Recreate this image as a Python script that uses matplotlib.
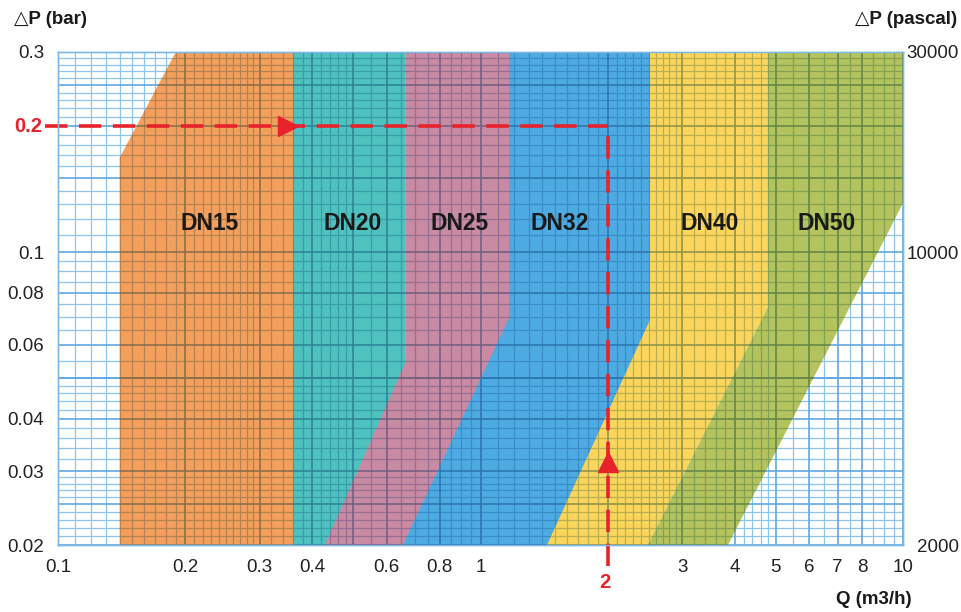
import numpy as np
import matplotlib
matplotlib.use("Agg")
import matplotlib.pyplot as plt
from matplotlib.patches import Polygon
from matplotlib.collections import LineCollection
from matplotlib.colors import to_rgb

# ---------------- data ----------------
bands = ["DN15", "DN20", "DN25", "DN32", "DN40", "DN50"]
band_colors = ["#F49F5C", "#4FC1BF", "#C98AA3", "#4EABE1", "#FBD55C", "#B3C35D"]
# polygon outlines (Q in m3/h, dP in bar)
band_q = [
    [0.14, 0.14, 0.19, 0.36, 0.36],
    [0.36, 0.36, 0.663, 0.663],
    [0.663, 1.168, 1.168, 0.4285, 0.663],
    [1.168, 2.518, 2.518, 0.6555, 1.168],
    [2.518, 4.79, 4.79, 2.49, 1.437, 2.518],
    [4.79, 10.0, 10.0, 3.853, 2.49, 4.79],
]
band_dp = [
    [0.02, 0.168, 0.3, 0.3, 0.02],
    [0.02, 0.3, 0.3, 0.02],
    [0.3, 0.3, 0.02, 0.02, 0.0543],
    [0.3, 0.3, 0.02, 0.02, 0.0695],
    [0.3, 0.3, 0.0739, 0.02, 0.02, 0.0688],
    [0.3, 0.3, 0.1308, 0.02, 0.02, 0.0739],
]
label_q = [0.229, 0.497, 0.894, 1.543, 3.49, 6.61]
label_dp = 0.117

x_ticks = [0.1, 0.2, 0.3, 0.4, 0.6, 0.8, 1, 3, 4, 5, 6, 7, 8, 10]
x_ticklabels = ["0.1", "0.2", "0.3", "0.4", "0.6", "0.8", "1", "3", "4", "5", "6", "7", "8", "10"]
y_ticks = [0.02, 0.03, 0.04, 0.06, 0.08, 0.1, 0.3]
y_ticklabels = ["0.02", "0.03", "0.04", "0.06", "0.08", "0.1", "0.3"]
pa_ticks = [2000, 10000, 30000]
pa_ticklabels = ["2000", "10000", "30000"]

op_q = 2.0
op_dp = 0.2

# ---------------- figure ----------------
FONT = ["Liberation Sans", "DejaVu Sans"]
plt.rcParams["font.family"] = FONT

fig = plt.figure(figsize=(9.61, 6.12), dpi=100)
ax = fig.add_axes([58 / 961, 67 / 612, 845 / 961, 493 / 612])
ax.set_xscale("log")
ax.set_yscale("log")
ax.set_xlim(0.1, 10)
ax.set_ylim(0.02, 0.3)

# grid positions
gx = np.concatenate([
    np.arange(0.1, 0.3, 0.01), np.arange(0.3, 0.5, 0.02), np.arange(0.5, 1.0, 0.05),
    np.arange(1.0, 3.0, 0.1), np.arange(3.0, 5.0, 0.2), np.arange(5.0, 10.01, 0.5)])
gy = np.concatenate([
    np.arange(0.02, 0.03, 0.001), np.arange(0.03, 0.05, 0.002),
    np.arange(0.05, 0.1, 0.005), np.arange(0.1, 0.301, 0.01)])
major_x = [0.1, 0.2, 0.3, 0.4, 0.5, 0.6, 0.8, 1, 2, 3, 4, 5, 6, 7, 8, 10]
major_y = [0.02, 0.025, 0.03, 0.04, 0.05, 0.06, 0.08, 0.1, 0.15, 0.2, 0.25, 0.3]


def grid_segments():
    segs_minor, segs_major = [], []
    for v in gx:
        s = [(v, 0.02), (v, 0.3)]
        (segs_major if np.any(np.isclose(v, major_x)) else segs_minor).append(s)
    for v in gy:
        s = [(0.1, v), (10, v)]
        (segs_major if np.any(np.isclose(v, major_y)) else segs_minor).append(s)
    return segs_minor, segs_major


segs_minor, segs_major = grid_segments()
line_blue = np.array(to_rgb("#6FB0E3"))

# background grid (white area)
ax.add_collection(LineCollection(segs_minor, colors=[(0.56, 0.77, 0.93)], linewidths=0.9, zorder=1))
ax.add_collection(LineCollection(segs_major, colors=[(0.38, 0.66, 0.89)], linewidths=1.2, zorder=1))

z = 2
for name, col, qs, ds in zip(bands, band_colors, band_q, band_dp):
    poly = Polygon(np.column_stack([qs, ds]), closed=True, facecolor=col,
                   edgecolor="none", zorder=z)
    ax.add_patch(poly)
    base = np.array(to_rgb(col))
    c_minor = tuple(base * (1 - 0.35 * (1 - line_blue)) * 0.92)
    c_major = tuple(base * (1 - 0.55 * (1 - line_blue)) * 0.84)
    lc1 = LineCollection(segs_minor, colors=[c_minor], linewidths=0.9, zorder=z + 0.5)
    lc2 = LineCollection(segs_major, colors=[c_major], linewidths=1.2, zorder=z + 0.5)
    ax.add_collection(lc1)
    ax.add_collection(lc2)
    lc1.set_clip_path(poly)
    lc2.set_clip_path(poly)
    z += 1

for name, q in zip(bands, label_q):
    ax.text(q, label_dp, name, fontsize=16.5, fontweight="bold", color="#1a1a1a",
            ha="center", va="center", zorder=20, family=FONT)

# operating point dashed lines
red = "#E8222A"
dash = dict(color=red, lw=2.6, dashes=(6.2, 3.2), zorder=25, clip_on=False)
ax.plot([0.093, op_q], [op_dp, op_dp], **dash)
ax.plot([op_q, op_q], [0.0178, op_dp], **dash)
ax.plot([0.35], [op_dp], marker=">", markersize=14, color=red, zorder=26, clip_on=False)
ax.plot([op_q], [0.0316], marker="^", markersize=14, color=red, zorder=26, clip_on=False)

# ticks
ax.set_xticks(x_ticks)
ax.set_xticklabels(x_ticklabels)
ax.set_yticks(y_ticks)
ax.set_yticklabels(y_ticklabels)
ax.xaxis.set_minor_locator(matplotlib.ticker.NullLocator())
ax.yaxis.set_minor_locator(matplotlib.ticker.NullLocator())
ax.tick_params(axis="both", length=0, labelsize=13.5, colors="#222222")
ax.tick_params(axis="x", pad=10)
ax.tick_params(axis="y", pad=10)

ax2 = ax.twinx()
ax2.set_yscale("log")
ax2.set_ylim(2000, 30000)
ax2.set_yticks(pa_ticks)
ax2.set_yticklabels(pa_ticklabels)
ax2.yaxis.set_minor_locator(matplotlib.ticker.NullLocator())
ax2.tick_params(axis="y", length=0, labelsize=13.5, colors="#222222", pad=40)
for t in ax2.get_yticklabels():
    t.set_horizontalalignment("right")

for a in (ax, ax2):
    for s in a.spines.values():
        s.set_color("#7DB8E6")
        s.set_linewidth(1.0)

# red labels
fig.text(42 / 961, 1 - 127 / 612, "0.2", color=red, fontsize=14.5, fontweight="bold",
         ha="right", va="center")
fig.text(605 / 961, 1 - 583 / 612, "2", color=red, fontsize=14.5, fontweight="bold",
         ha="center", va="center")

# axis titles
fig.text(14 / 961, 1 - 20 / 612, "△P (bar)", fontsize=13.5, fontweight="bold",
         ha="left", va="center", color="#1a1a1a")
fig.text(957 / 961, 1 - 20 / 612, "△P (pascal)", fontsize=13.5, fontweight="bold",
         ha="right", va="center", color="#1a1a1a")
fig.text(912 / 961, 1 - 600 / 612, "Q (m3/h)", fontsize=13.5, fontweight="bold",
         ha="right", va="center", color="#1a1a1a")

fig.savefig("out.png", dpi=100)
